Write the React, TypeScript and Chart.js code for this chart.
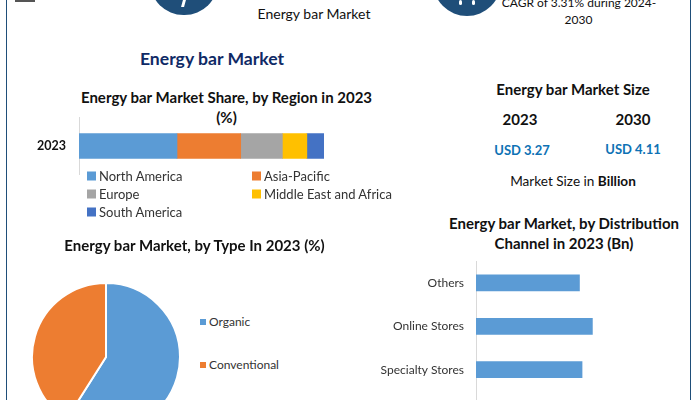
import React, { useEffect, useRef } from "react";
import { Chart, registerables } from "chart.js";

Chart.register(...registerables);

const regionYear = ["2023"];
const regionNames = ["North America", "Asia-Pacific", "Europe", "Middle East and Africa", "South America"];
const regionValues = [40, 26, 17, 10, 7];
const regionColors = ["#5B9BD5", "#ED7D31", "#A5A5A5", "#FFC000", "#4472C4"];

const typeNames = ["Organic", "Conventional"];
const typeValues = [59, 41];
const typeColors = ["#5B9BD5", "#ED7D31"];

const channelNames = ["Others", "Online Stores", "Specialty Stores", " "];
const channelValues = [0.8, 0.9, 0.82, null];

const FONT = "Lato, Carlito, sans-serif";
const AXIS = "#D9D9D9";

type TextProps = { x: number; y: number; size: number; color?: string; bold?: boolean; children: React.ReactNode };

// x is the centre of the text, y the centre of its line
function Label({ x, y, size, color = "#111", bold, children }: TextProps) {
  return (
    <div
      style={{
        position: "absolute",
        left: x,
        top: y,
        transform: "translate(-50%, -50%)",
        whiteSpace: "nowrap",
        fontSize: size,
        fontWeight: bold ? 700 : 400,
        color,
        lineHeight: 1,
      }}
    >
      {children}
    </div>
  );
}

function Key({ x, y, color, name, size = 9, fontSize = 13 }: { x: number; y: number; color: string; name: string; size?: number; fontSize?: number }) {
  return (
    <div style={{ position: "absolute", left: x, top: y, transform: "translateY(-50%)", display: "flex", alignItems: "center", whiteSpace: "nowrap", fontSize, color: "#333", lineHeight: 1 }}>
      <span style={{ width: size, height: size, background: color, display: "inline-block", marginRight: 3 }} />
      {name}
    </div>
  );
}

function Circle({ x, y, r }: { x: number; y: number; r: number }) {
  return <div style={{ position: "absolute", left: x - r, top: y - r, width: 2 * r, height: 2 * r, borderRadius: "50%", background: "#1F4E79" }} />;
}

export default function App() {
  const regionRef = useRef<HTMLCanvasElement>(null);
  const typeRef = useRef<HTMLCanvasElement>(null);
  const channelRef = useRef<HTMLCanvasElement>(null);

  useEffect(() => {
    document.body.style.margin = "0";
    const charts: Chart[] = [];

    charts.push(
      new Chart(regionRef.current!, {
        type: "bar",
        data: {
          labels: regionYear,
          datasets: regionNames.map((name, i) => ({
            label: name,
            data: [regionValues[i]],
            backgroundColor: regionColors[i],
            barThickness: 25,
          })),
        },
        options: {
          indexAxis: "y",
          animation: false,
          responsive: false,
          layout: { padding: 0, autoPadding: false },
          plugins: { legend: { display: false }, title: { display: false }, tooltip: { enabled: false } },
          scales: {
            x: { stacked: true, min: 0, max: 100, display: false },
            y: {
              stacked: true,
              position: "left",
              afterFit: (s: any) => { s.width = 79; },
              grid: { display: false, drawTicks: false },
              border: { color: AXIS },
              ticks: { color: "#111", font: { family: FONT, size: 12.5, weight: "bold" }, padding: 13 },
            },
          },
        },
      })
    );

    charts.push(
      new Chart(typeRef.current!, {
        type: "pie",
        data: {
          labels: typeNames,
          datasets: [{ data: typeValues, backgroundColor: typeColors, borderColor: "#fff", borderWidth: 2 }],
        },
        options: {
          animation: false,
          responsive: false,
          layout: { padding: 0 },
          plugins: { legend: { display: false }, title: { display: false }, tooltip: { enabled: false } },
        },
      })
    );

    charts.push(
      new Chart(channelRef.current!, {
        type: "bar",
        data: {
          labels: channelNames,
          datasets: [{ data: channelValues, backgroundColor: "#5B9BD5", barThickness: 16 }],
        },
        options: {
          indexAxis: "y",
          animation: false,
          responsive: false,
          layout: { padding: 0, autoPadding: false },
          plugins: { legend: { display: false }, title: { display: false }, tooltip: { enabled: false } },
          scales: {
            x: { type: "linear", min: 0, max: 1.5, display: false },
            y: {
              type: "category",
              afterFit: (s: any) => { s.width = 126; },
              grid: { display: false, drawTicks: false },
              border: { color: AXIS },
              ticks: { color: "#333", font: { family: FONT, size: 12 }, padding: 12, autoSkip: false },
            },
          },
        },
      })
    );

    return () => charts.forEach((c) => c.destroy());
  }, []);

  return (
    <div style={{ position: "relative", width: 700, height: 400, overflow: "hidden", background: "#fff", fontFamily: FONT }}>
      {/* frame */}
      <div style={{ position: "absolute", left: 6, top: 0, width: 1, height: 400, background: "#1F4E79" }} />
      <div style={{ position: "absolute", left: 690, top: 0, width: 1, height: 400, background: "#1F4E79" }} />

      {/* header remnants */}
      <div style={{ position: "absolute", left: 15, top: 0, width: 20, height: 2, background: "#555" }} />
      <Circle x={184} y={-18.6} r={33.6} />
      <Circle x={467} y={-18} r={34.3} />
      <div style={{ position: "absolute", left: 182, top: 0, width: 3, height: 7, background: "#fff", transform: "skewX(-15deg)" }} />
      <div style={{ position: "absolute", left: 459, top: 0, width: 3, height: 5, background: "#fff", borderRadius: 2 }} />
      <div style={{ position: "absolute", left: 472, top: 0, width: 3, height: 5, background: "#fff", borderRadius: 2 }} />
      <Label x={314} y={14} size={14}>Energy bar Market</Label>
      <Label x={579} y={3} size={12}>CAGR of 3.31% during 2024-</Label>
      <Label x={578.5} y={20} size={12}>2030</Label>

      <Label x={212} y={59} size={17.6} bold color="#0F2A66">Energy bar Market</Label>

      {/* region */}
      <Label x={226.5} y={97} size={15} bold>Energy bar Market Share, by Region in 2023</Label>
      <Label x={226.5} y={117} size={15} bold>(%)</Label>
      <canvas ref={regionRef} width={324} height={98} style={{ position: "absolute", left: 0, top: 97 }} />
      <Key x={87} y={176} color={regionColors[0]} name={regionNames[0]} />
      <Key x={252} y={176} color={regionColors[1]} name={regionNames[1]} />
      <Key x={87} y={194} color={regionColors[2]} name={regionNames[2]} />
      <Key x={252} y={194} color={regionColors[3]} name={regionNames[3]} />
      <Key x={87} y={212} color={regionColors[4]} name={regionNames[4]} />

      {/* type */}
      <Label x={194.5} y={245} size={15} bold>Energy bar Market, by Type In 2023 (%)</Label>
      <canvas ref={typeRef} width={150} height={150} style={{ position: "absolute", left: 31, top: 282 }} />
      <Key x={200} y={322} color={typeColors[0]} name={typeNames[0]} size={6} fontSize={12} />
      <Key x={200} y={365} color={typeColors[1]} name={typeNames[1]} size={6} fontSize={12} />

      {/* size */}
      <Label x={573} y={89} size={15} bold>Energy bar Market Size</Label>
      <Label x={520} y={119} size={15} bold>2023</Label>
      <Label x={633} y={119} size={15} bold>2030</Label>
      <Label x={522} y={150} size={13} bold color="#0E72B5">USD 3.27</Label>
      <Label x={633} y={149} size={13} bold color="#0E72B5">USD 4.11</Label>
      <Label x={573} y={182} size={13.6}>Market Size in <b>Billion</b></Label>

      {/* channel */}
      <Label x={564} y={223} size={15} bold>Energy bar Market, by Distribution</Label>
      <Label x={564} y={243} size={15} bold>Channel in 2023 (Bn)</Label>
      <canvas ref={channelRef} width={320} height={212} style={{ position: "absolute", left: 350, top: 242 }} />
    </div>
  );
}
